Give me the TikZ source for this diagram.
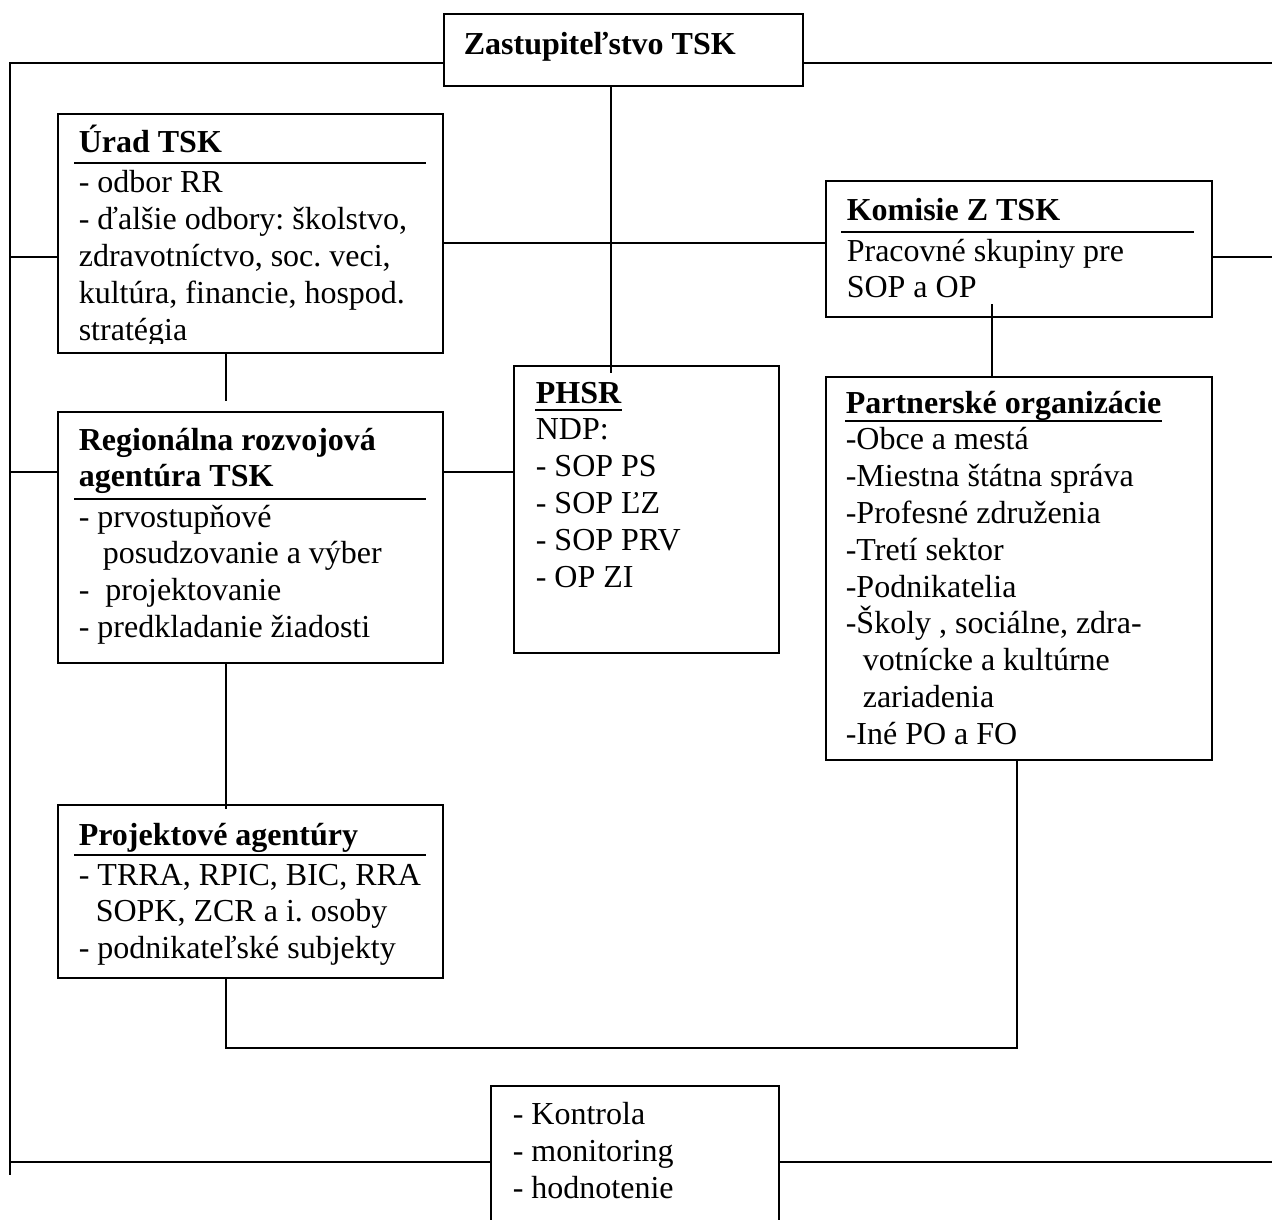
\documentclass[tikz,border=0pt]{standalone}
\usepackage{fontspec}
\setmainfont{Liberation Serif}
\frenchspacing
\begin{document}
\begin{tikzpicture}[x=1pt,y=-1pt, line width=1.6pt,
  box/.style={draw, line width=1.6pt, rectangle, inner sep=0pt, anchor=north west},
  txt/.style={anchor=base west, inner sep=0pt, font=\fontsize{32}{36.8}\selectfont},
  ttl/.style={anchor=base west, inner sep=0pt, font=\fontsize{32}{36.8}\selectfont\bfseries},
  rule/.style={line width=2.6pt}]
\useasboundingbox (0,0) rectangle (1272,1220);

% boxes
\node[box, minimum width=359, minimum height=72] (zast) at (443,13) {};
\node[box, minimum width=385, minimum height=239] (urad) at (57,113) {};
\node[box, minimum width=386, minimum height=136] (kom) at (825,180) {};
\node[box, minimum width=385, minimum height=251] (rra) at (57,411) {};
\node[box, minimum width=265, minimum height=287] (phsr) at (513,365) {};
\node[box, minimum width=386, minimum height=383] (part) at (825,376) {};
\node[box, minimum width=385, minimum height=173] (proj) at (57,804) {};
\node[box, minimum width=288, minimum height=170] (kontr) at (490,1085) {};

% connectors
\coordinate (Ltop) at (10,63);
\coordinate (Lend) at (10,1175);
\draw (zast.west |- Ltop) -- (Ltop) -- (Lend);
\coordinate (Rtop) at (1272,63);
\draw (zast.east |- Rtop) -- (Rtop);
\coordinate (L1) at (10,257);
\draw (L1) -- (L1 -| urad.west);
\coordinate (L2) at (10,472);
\draw (L2) -- (L2 -| rra.west);
\coordinate (L3) at (10,1162);
\draw (L3) -- (L3 -| kontr.west);
\coordinate (Rkom) at (1272,257);
\draw (kom.east |- Rkom) -- (Rkom);
\coordinate (Rbot) at (1272,1162);
\draw (kontr.east |- Rbot) -- (Rbot);
\coordinate (M1) at (0,243);
\draw (urad.east |- M1) -- (kom.west |- M1);
\coordinate (phsrIn) at (611,373);
\draw (phsrIn |- zast.south) -- (phsrIn);
\coordinate (M2) at (0,472);
\draw (rra.east |- M2) -- (phsr.west |- M2);
\coordinate (c1) at (226,401);
\draw (c1 |- urad.south) -- (c1);
\coordinate (c2) at (226,809);
\draw (c2 |- rra.south) -- (c2);
\coordinate (kIn) at (992,304);
\draw (kIn) -- (kIn |- part.north);
\coordinate (c3) at (226,1048);
\coordinate (c4) at (1017,1048);
\draw (c3 |- proj.south) -- (c3) -- (c4) -- (c4 |- part.south);

% Zastupitelstvo
\node[ttl] (zastT) at (463,55) {Zastupiteľstvo TSK};

% Urad
\node[ttl] (uradT) at (78,153) {Úrad TSK};
\draw[rule] (74,163) -- (426,163);
\begin{scope}
\clip (57,113) rectangle (442,343);
\node[txt] (urad1) at (78,193) {- odbor RR};
\node[txt] (urad2) at (78,229.8) {- ďalšie odbory: školstvo,};
\node[txt] (urad3) at (78,266.6) {zdravotníctvo, soc. veci,};
\node[txt] (urad4) at (78,303.4) {kultúra, financie, hospod.};
\node[txt] (urad5) at (78,340.2) {stratégia};
\end{scope}

% Komisie
\node[ttl] (komT) at (846,220) {Komisie Z TSK};
\draw[rule] (841,232) -- (1194,232);
\node[txt] (kom1) at (846,261) {Pracovné skupiny pre};
\node[txt] (kom2) at (846,297.8) {SOP a OP};

% RRA
\node[ttl] (rraT1) at (78,450) {Regionálna rozvojová};
\node[ttl] (rraT2) at (78,486.8) {agentúra TSK};
\draw[rule] (74,499) -- (426,499);
\node[txt] (rra1) at (78,527) {- prvostupňové};
\node[txt] (rra2) at (102,563.8) {posudzovanie a výber};
\node[txt] (rra3) at (78,600.6) {-~ projektovanie};
\node[txt] (rra4) at (78,637.4) {- predkladanie žiadosti};

% PHSR
\node[ttl] (phsrT) at (535,403) {PHSR};
\draw[rule] ([yshift=-7pt]phsrT.base west) -- ([yshift=-7pt]phsrT.base east);
\node[txt] (phsr1) at (535,439.8) {NDP:};
\node[txt] (phsr2) at (535,476.6) {- SOP PS};
\node[txt] (phsr3) at (535,513.4) {- SOP ĽZ};
\node[txt] (phsr4) at (535,550.2) {- SOP PRV};
\node[txt] (phsr5) at (535,587) {- OP ZI};

% Partnerske
\node[ttl] (partT) at (845,413) {Partnerské organizácie};
\draw[rule] ([yshift=-8pt]partT.base west) -- ([yshift=-8pt]partT.base east);
\node[txt] (part1) at (845,449.8) {-Obce a mestá};
\node[txt] (part2) at (845,486.6) {-Miestna štátna správa};
\node[txt] (part3) at (845,523.4) {-Profesné združenia};
\node[txt] (part4) at (845,560.2) {-Tretí sektor};
\node[txt] (part5) at (845,597) {-Podnikatelia};
\node[txt] (part6) at (845,633.8) {-Školy , sociálne, zdra-};
\node[txt] (part7) at (862,670.6) {votnícke a kultúrne};
\node[txt] (part8) at (862,707.4) {zariadenia};
\node[txt] (part9) at (845,744.2) {-Iné PO a FO};

% Projektove
\node[ttl] (projT) at (78,845) {Projektové agentúry};
\draw[rule] (74,855) -- (426,855);
\node[txt] (proj1) at (78,885) {- TRRA, RPIC, BIC, RRA};
\node[txt] (proj2) at (95,921.8) {SOPK, ZCR a i. osoby};
\node[txt] (proj3) at (78,958.6) {- podnikateľské subjekty};

% Kontrola
\node[txt] (kon1) at (512,1124) {- Kontrola};
\node[txt] (kon2) at (512,1161) {- monitoring};
\node[txt] (kon3) at (512,1198) {- hodnotenie};
\end{tikzpicture}
\end{document}
